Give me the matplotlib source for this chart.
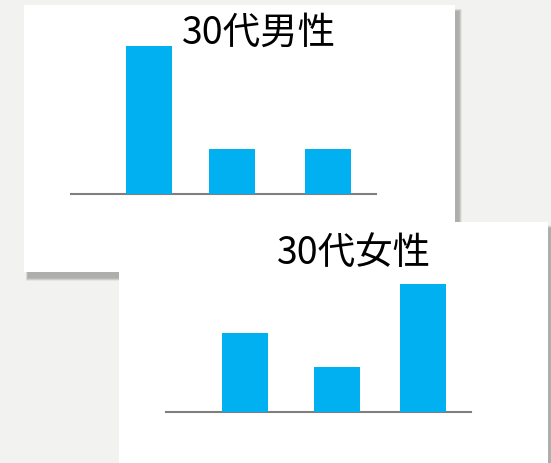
import matplotlib
matplotlib.use("Agg")
import matplotlib.pyplot as plt
from matplotlib.patches import Rectangle

plt.rcParams['font.family'] = ['Noto Sans CJK JP', 'DejaVu Sans']

# ---- data ----
categories = ['A', 'B', 'C']
male_title = '30代男性'
female_title = '30代女性'
male_values = [32.8, 9.9, 9.9]
female_values = [17.6, 10.0, 28.5]

# ---- layout (category x positions on a 0..3 axis) ----
male_pos = [0.767, 1.584, 2.528]
female_pos = [0.777, 1.68, 2.528]

W, H = 551, 463
fig = plt.figure(figsize=(W / 100, H / 100), dpi=100)
fig.patch.set_facecolor('#f2f3f1')

BAR = '#00b0f0'
AXIS = '#7f7f7f'


def fx(px):
    return px / W


def fy(py):
    return 1 - py / H


def card(x0, y0, x1, y1, z):
    # shadow
    for k in range(6):
        fig.patches.append(Rectangle((fx(x0 + 4 - k * 0.5), fy(y1 + 6 + k * 0.5)),
                                     fx(x1 - x0 + k), (y1 - y0 + k) / H,
                                     transform=fig.transFigure, facecolor='#000000',
                                     alpha=0.05, edgecolor='none', zorder=z))
    fig.patches.append(Rectangle((fx(x0), fy(y1)), fx(x1 - x0), (y1 - y0) / H,
                                 transform=fig.transFigure, facecolor='white',
                                 edgecolor='none', zorder=z + 0.5))


card(24, 5, 455, 272, 1)
card(119, 222, 548, 470, 3)

PX_PER_UNIT = 4.5
AX_H = 150


def panel(x0, x1, base, pos, vals, z):
    ax = fig.add_axes([fx(x0), fy(base), fx(x1 - x0), AX_H / H])
    ax.set_zorder(z)
    ax.patch.set_visible(False)
    ax.bar(pos, vals, width=0.45, color=BAR, zorder=2)
    ax.set_xlim(0, 3)
    ax.set_ylim(0, AX_H / PX_PER_UNIT)
    for s in ['top', 'left', 'right']:
        ax.spines[s].set_visible(False)
    ax.spines['bottom'].set_color(AXIS)
    ax.spines['bottom'].set_linewidth(1.5)
    ax.spines['bottom'].set_zorder(1)
    ax.set_xticks([])
    ax.set_yticks([])
    return ax


panel(71, 376, 193.5, male_pos, male_values, 5)
panel(166, 471, 412.3, female_pos, female_values, 7)

fig.text(fx(259.5), fy(33), male_title, ha='center', va='center',
         fontsize=27, color='#000000', zorder=10)
fig.text(fx(354.5), fy(253.5), female_title, ha='center', va='center',
         fontsize=27, color='#000000', zorder=10)

fig.savefig('out.png', dpi=100, facecolor=fig.get_facecolor())
